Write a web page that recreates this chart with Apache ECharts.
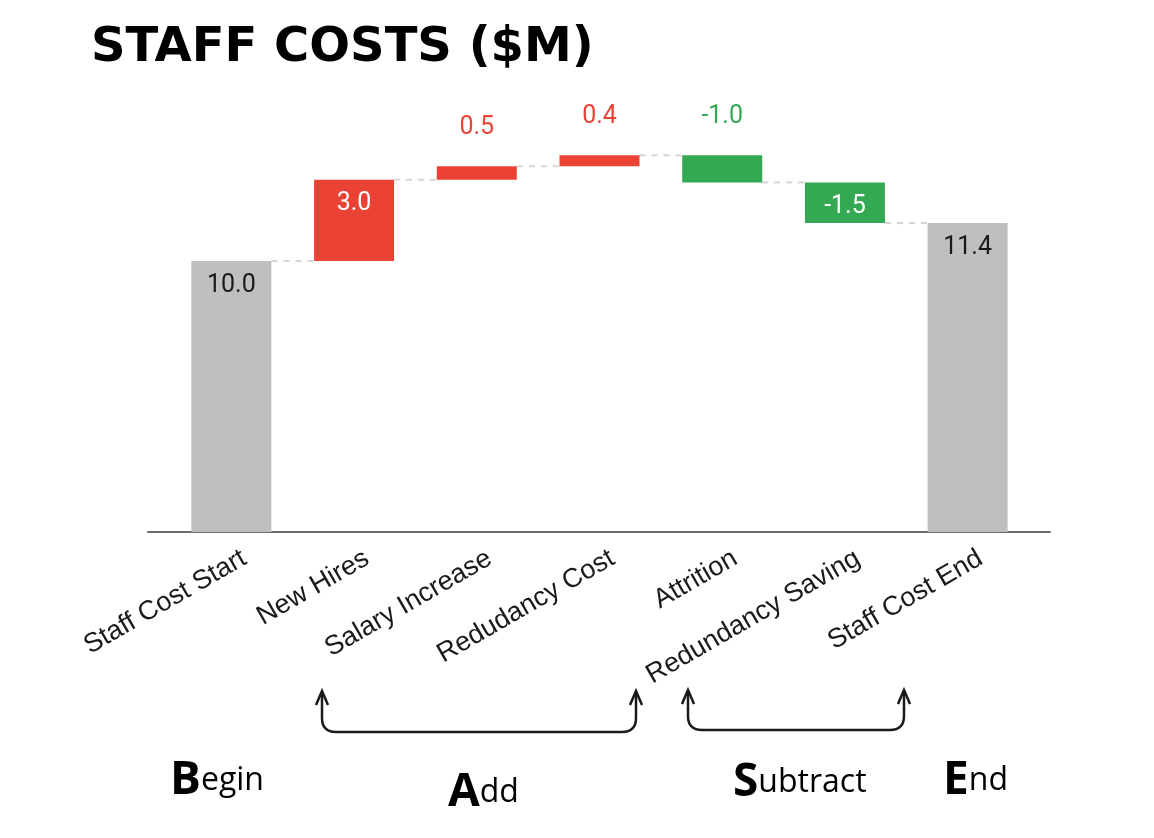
<!DOCTYPE html>
<html>
<head>
<meta charset="utf-8">
<script src="https://cdn.jsdelivr.net/npm/echarts@6/dist/echarts.min.js"></script>
<style>
  html, body { margin: 0; padding: 0; background: #fff; }
  #chart { width: 1154px; height: 838px; }
</style>
</head>
<body>
<div id="chart"></div>
<script>
  // data
  var categories = ['Staff Cost Start', 'New Hires', 'Salary Increase', 'Redudancy Cost',
    'Attrition', 'Redundancy Saving', 'Staff Cost End'];
  var startValue = 10.0;
  var changes = [3.0, 0.5, 0.4, -1.0, -1.5];
  var endValue = 11.4;

  var RED = '#ea4335', GREEN = '#34a853', GREY = '#bfbfbf';

  // build waterfall pieces
  var baseData = [], barData = [], levels = [];
  var run = startValue;
  baseData.push(0);
  barData.push({ value: startValue, raw: startValue, kind: 'total' });
  levels.push(run);
  changes.forEach(function (d) {
    var next = run + d;
    baseData.push(Math.min(run, next));
    barData.push({ value: Math.abs(d), raw: d, kind: d >= 0 ? 'up' : 'down' });
    run = next;
    levels.push(run);
  });
  baseData.push(0);
  barData.push({ value: endValue, raw: endValue, kind: 'total' });

  barData.forEach(function (item) {
    var color = item.kind === 'total' ? GREY : (item.kind === 'up' ? RED : GREEN);
    var inside = item.kind === 'total' || item.value >= 1.2;
    item.itemStyle = { color: color };
    item.label = inside
      ? { position: 'insideTop', distance: 12, color: item.kind === 'total' ? '#1a1a1a' : '#fff' }
      : { position: 'top', distance: 26, color: color };
  });

  var connectorData = levels.map(function (lv, i) { return [i, lv]; });

  // hand drawn bracket with arrows at both ends
  function bracket(x1, x2, top, bottom) {
    var st = { stroke: '#1a1a1a', lineWidth: 2.5, fill: null };
    var r = 14;
    return [
      { type: 'line', shape: { x1: x1, y1: top, x2: x1, y2: bottom - r }, style: st },
      { type: 'bezierCurve', shape: { x1: x1, y1: bottom - r, cpx1: x1, cpy1: bottom, x2: x1 + r, y2: bottom }, style: st },
      { type: 'line', shape: { x1: x1 + r, y1: bottom, x2: x2 - r, y2: bottom }, style: st },
      { type: 'bezierCurve', shape: { x1: x2 - r, y1: bottom, cpx1: x2, cpy1: bottom, x2: x2, y2: bottom - r }, style: st },
      { type: 'line', shape: { x1: x2, y1: bottom - r, x2: x2, y2: top }, style: st },
      { type: 'polyline', shape: { points: [[x1 - 6, top + 13], [x1, top - 1], [x1 + 6, top + 13]] }, style: st },
      { type: 'polyline', shape: { points: [[x2 - 6, top + 13], [x2, top - 1], [x2 + 6, top + 13]] }, style: st }
    ];
  }

  function handText(x, y, big, rest) {
    return {
      type: 'text', left: x, top: y,
      style: {
        text: '{b|' + big + '}{s|' + rest + '}',
        rich: {
          b: { fontSize: 46, fontFamily: 'Open Sans', fontWeight: 700, fill: '#000' },
          s: { fontSize: 32, fontFamily: 'Open Sans', fontWeight: 500, fill: '#000' }
        }
      }
    };
  }

  var myChart = echarts.init(document.getElementById('chart'));
  var option = {
    animation: false,
    title: {
      text: 'STAFF COSTS ($M)',
      left: 86, top: 20,
      textStyle: { fontFamily: 'DejaVu Sans', fontSize: 48, fontWeight: 'bold', color: '#000' }
    },
    grid: [
      { left: 170, right: 125, top: 125.5, bottom: 306 },
      { left: 148, right: 104, top: 125.5, bottom: 306 }
    ],
    xAxis: [
      {
        type: 'category', data: categories, gridIndex: 0,
        axisLine: { show: false }, axisTick: { show: false },
        axisLabel: {
          interval: 0, rotate: 30, margin: 32, padding: [0, -15, 0, 0],
          fontFamily: 'Liberation Sans, Arial', fontSize: 27, color: '#1a1a1a'
        }
      },
      {
        type: 'value', gridIndex: 1, min: 0, max: 1,
        axisLine: { show: true, lineStyle: { color: '#6b6b6b', width: 2 } },
        axisTick: { show: false }, axisLabel: { show: false }, splitLine: { show: false }
      }
    ],
    yAxis: [
      { type: 'value', gridIndex: 0, min: 0, max: 15, show: false },
      { type: 'value', gridIndex: 1, min: 0, max: 1, show: false }
    ],
    series: [
      {
        type: 'bar', stack: 'wf', data: baseData, barWidth: 80,
        itemStyle: { color: 'transparent' }, silent: true
      },
      {
        type: 'bar', stack: 'wf', data: barData, barWidth: 80,
        label: {
          show: true, fontFamily: 'Roboto', fontSize: 25,
          formatter: function (p) { return p.data.raw.toFixed(1); }
        }
      },
      {
        type: 'custom', data: connectorData,
        renderItem: function (params, api) {
          var i = api.value(0);
          if (i >= categories.length - 1) return null;
          var p1 = api.coord([i, api.value(1)]);
          var p2 = api.coord([i + 1, api.value(1)]);
          return {
            type: 'line',
            shape: { x1: p1[0] + 40, y1: p1[1], x2: p2[0] - 40, y2: p2[1] },
            style: { stroke: '#d6d6d6', lineWidth: 2, lineDash: [6, 6] }
          };
        },
        z: 1
      }
    ],
    graphic: [].concat(
      bracket(322, 636, 692, 732),
      bracket(688, 904, 691, 730),
      [
        handText(170, 758, 'B', 'egin'),
        handText(448, 770, 'A', 'dd'),
        handText(733, 760, 'S', 'ubtract'),
        handText(943, 758, 'E', 'nd')
      ]
    )
  };
  myChart.setOption(option);
  window.addEventListener('resize', function () { myChart.resize(); });
</script>
</body>
</html>
